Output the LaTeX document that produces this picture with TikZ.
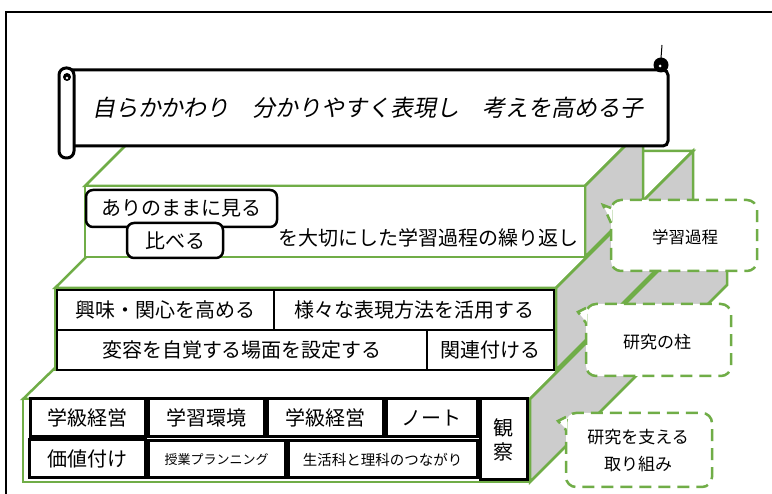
\documentclass[tikz,border=0pt]{standalone}
\usepackage{fontspec}
\newfontfamily\cjk{Noto Sans CJK JP}
\newfontfamily\cjkit[FakeSlant=0.2]{Noto Sans CJK JP}
\definecolor{lgreen}{RGB}{112,173,71}
\definecolor{sgray}{RGB}{204,204,204}
\tikzset{
  grn/.style={draw=lgreen, line width=2.5pt, line join=miter},
  topface/.style={grn, fill=white},
  sideface/.style={grn, fill=sgray},
  blk/.style={draw=black, line width=2.5pt, fill=white, inner sep=0pt, outer sep=0pt, font=\cjk\fontsize{20}{20}\selectfont},
  rbox/.style={blk, rounded corners=7pt},
  callout/.style={draw=lgreen, line width=2.5pt, dash pattern=on 12pt off 7pt},
  ctext/.style={font=\cjk\fontsize{17}{27}\selectfont, align=center, inner sep=0pt},
  banner/.style={draw=black, line width=3pt, fill=white},
}
\begin{document}
\begin{tikzpicture}[x=1pt,y=-1pt]
\useasboundingbox (0,0) rectangle (772,494);
\fill[white] (0,0) rectangle (772,494);
% outer frame
\draw[line width=2pt] (6,494) -- (6,12) -- (772,12);

% bottom tier cube
\filldraw[topface] (23,399) -- (226,202) -- (727,202) -- (530,399) -- cycle;
\filldraw[sideface] (530,399) -- (727,202) -- (727,285) -- (530,482) -- cycle;
\filldraw[topface] (23,399) rectangle (530,482);
% middle tier cube
\filldraw[topface] (55,288) -- (193,151) -- (693,151) -- (556,288) -- cycle;
\filldraw[sideface] (556,288) -- (693,151) -- (693,233) -- (556,370) -- cycle;
\filldraw[topface] (55,288) rectangle (556,370);
% top tier cube
\filldraw[topface] (85,186) -- (143,128) -- (643,128) -- (585,186) -- cycle;
\filldraw[sideface] (585,186) -- (643,128) -- (643,199) -- (585,257) -- cycle;
\filldraw[topface] (85,186) rectangle (585,257);

% top tier contents
\node[rbox, minimum width=191pt, minimum height=37pt] (t1) at (181.5,208.5) {ありのままに見る};
\node[rbox, minimum width=96pt, minimum height=35pt] (t2) at (175,240.5) {比べる};
\node[font=\cjk\fontsize{20}{20}\selectfont, inner sep=0pt] (t3) at (428,238) {を大切にした学習過程の繰り返し};

% middle tier contents
\node[blk, minimum width=217pt, minimum height=40pt] (m1) at (165.5,310) {興味・関心を高める};
\node[blk, minimum width=280pt, minimum height=40pt] (m2) at (414,310) {様々な表現方法を活用する};
\node[blk, minimum width=370pt, minimum height=40pt] (m3) at (242,350) {変容を自覚する場面を設定する};
\node[blk, minimum width=127pt, minimum height=40pt] (m4) at (490.5,350) {関連付ける};

% bottom tier contents
\node[blk, line width=3pt, minimum width=115pt, minimum height=38pt] (b1) at (87.5,418) {学級経営};
\node[blk, line width=3pt, minimum width=116pt, minimum height=38pt] (b2) at (206,418) {学習環境};
\node[blk, line width=3pt, minimum width=116pt, minimum height=38pt] (b3) at (325,418) {学級経営};
\node[blk, line width=3pt, minimum width=91pt, minimum height=38pt] (b4) at (431.5,418) {ノート};
\node[blk, line width=3pt, minimum width=47pt, minimum height=81pt, align=center, font=\cjk\fontsize{20}{24}\selectfont] (b5) at (503.5,439.5) {観\\察};
\node[blk, line width=3pt, minimum width=116pt, minimum height=38pt] (b6) at (87,459) {価値付け};
\node[blk, line width=3pt, minimum width=137pt, minimum height=37pt, font=\cjk\fontsize{13}{13}\selectfont] (b7) at (216.5,459.5) {授業プランニング};
\node[blk, line width=3pt, minimum width=189pt, minimum height=37pt, font=\cjk\fontsize{14.5}{14.5}\selectfont] (b8) at (382.5,459.5) {生活科と理科のつながり};

% banner scroll
\filldraw[banner, rounded corners=5pt] (66,70) rectangle (668,146);
\filldraw[banner, rounded corners=7pt] (59,68) rectangle (74,158);
\fill (67,77) circle (4);
\fill[white] (67,78) circle (1.3);
\fill (661,65) circle (7.5);
\fill[white] (660,66) circle (1.5);
\draw[line width=1pt] (661,58) -- (662,45);
\node[font=\cjkit\fontsize{23}{23}\selectfont, inner sep=0pt] (title) at (368,108) {自らかかわり　分かりやすく表現し　考えを高める子};

% callouts
\filldraw[callout, fill=white, rounded corners=10pt] (611,200) rectangle (757,271);
\fill[white] (612,208) -- (603,205) -- (612,223) -- cycle;
\draw[callout] (611,208) -- (603,205) -- (611,223);
\node[ctext, font=\cjk\fontsize{16.5}{20}\selectfont] (ca) at (685,237) {学習過程};

\filldraw[callout, fill=white, rounded corners=10pt] (586,304) rectangle (731,376);
\fill[white] (587,308) -- (578,312) -- (587,323) -- cycle;
\draw[callout] (586,308) -- (578,312) -- (586,323);
\node[ctext] (cb) at (657,342) {研究の柱};

\filldraw[callout, fill=white, rounded corners=10pt] (566,413) rectangle (712,487);
\fill[white] (567,417) -- (558,421) -- (567,430) -- cycle;
\draw[callout] (566,417) -- (558,421) -- (566,430);
\node[ctext] (cc) at (638,451) {研究を支える\\取り組み};
\end{tikzpicture}
\end{document}
